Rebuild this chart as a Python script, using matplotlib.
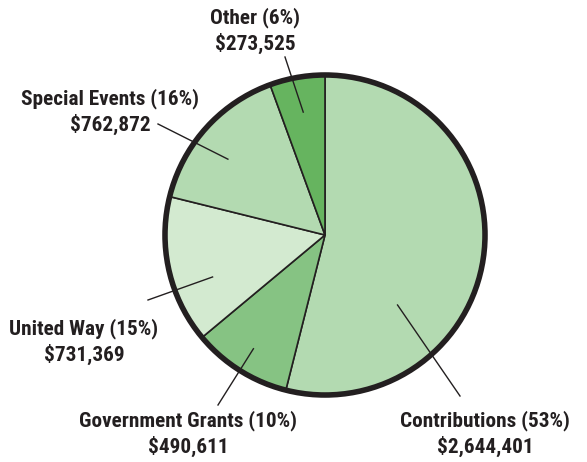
import matplotlib
matplotlib.use("Agg")
import matplotlib.pyplot as plt
import numpy as np
from matplotlib.patches import Circle

# data
categories = ["Contributions", "Government Grants", "United Way", "Special Events", "Other"]
amounts = [2644401, 490611, 731369, 762872, 273525]
pct_labels = ["53%", "10%", "15%", "16%", "6%"]
colors = ["#b3dab1", "#86c383", "#d3ead0", "#b3dab1", "#66b45f"]

# layout (pixel space, y measured from top)
W, H = 587, 462
CX, CY, R = 325, 235, 160
label_pos = [(485, 434), (188, 434), (84, 342), (110, 112), (255, 31)]
anchor_frac = [0.31, 0.5, 0.64, 0.57, 0.5]
anchor_r = [0.63, 0.84, 0.75, 0.77, 0.78]
text_end = [(460, 396), (218, 405), (148, 300), (158, 124), (285, 57)]

plt.rcParams["font.family"] = ["Roboto Condensed", "Liberation Sans Narrow",
                               "DejaVu Sans Condensed", "Roboto", "DejaVu Sans"]
TXT = "#231f20"

fig = plt.figure(figsize=(W / 100, H / 100), dpi=100)
ax = fig.add_axes([0, 0, 1, 1])

wedges, _ = ax.pie(amounts, colors=colors, startangle=90, counterclock=False,
                   center=(CX, H - CY), radius=R,
                   wedgeprops=dict(edgecolor="#231f20", linewidth=1.2))
ax.set_xlim(0, W)
ax.set_ylim(0, H)
ax.set_aspect("equal")
ax.axis("off")
ax.add_patch(Circle((CX, H - CY), R, fill=False, edgecolor="#231f20", linewidth=4))

for i, w in enumerate(wedges):
    ang = np.deg2rad(w.theta1 + anchor_frac[i] * (w.theta2 - w.theta1))
    ax_x = CX + anchor_r[i] * R * np.cos(ang)
    ax_y = H - CY + anchor_r[i] * R * np.sin(ang)
    ex, ey = text_end[i]
    ax.plot([ax_x, ex], [ax_y, H - ey], color=TXT, lw=1.0)
    lx, ly = label_pos[i]
    ax.text(lx, H - ly, f"{categories[i]} ({pct_labels[i]})\n${amounts[i]:,}",
            ha="center", va="center", fontsize=15.3, fontweight="bold",
            fontstretch="condensed", color=TXT, linespacing=1.3)

fig.savefig("out.png", dpi=100)
